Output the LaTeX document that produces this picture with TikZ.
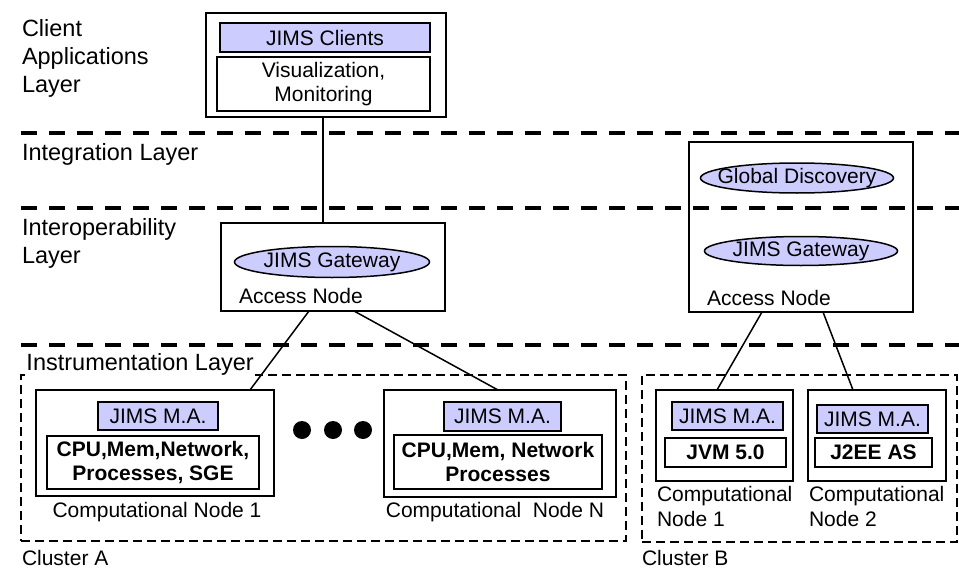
\documentclass[tikz,border=0pt]{standalone}
\usepackage{fontspec}
\setmainfont{Liberation Sans}
\usetikzlibrary{fit,calc,shapes.geometric}
\definecolor{jimsfill}{RGB}{204,204,255}
% text that does not widen an elliptic node
\newcommand{\svctext}[1]{\makebox[0pt]{#1}}
\begin{document}
\begin{tikzpicture}[x=1pt,y=-1pt,
  every node/.style={inner sep=0pt, outer sep=0pt},
  txt/.style={font=\fontsize{21}{23.5}\selectfont},
  bodytxt/.style={font=\bfseries\fontsize{21}{24}\selectfont, align=center},
  nodetxt/.style={font=\fontsize{21}{25}\selectfont, align=left},
  layertxt/.style={font=\fontsize{23.5}{28}\selectfont, align=left},
  frame/.style={draw, line width=1.5pt},
  heavyframe/.style={draw, line width=2pt},
  agent/.style={draw, line width=1.5pt, fill=jimsfill, txt},
  resource/.style={draw, line width=2pt, bodytxt},
  service/.style={ellipse, draw, line width=1.5pt, fill=jimsfill, txt},
  cluster/.style={draw, line width=1.5pt, dash pattern=on 9pt off 5pt},
  layerline/.style={line width=4pt, dash pattern=on 16pt off 12pt},
  link/.style={line width=1.5pt},
  dot/.style={circle, fill=black, minimum size=18pt},
  size/.style 2 args={minimum width=#1pt, minimum height=#2pt},
]
\useasboundingbox (0,0) rectangle (959,570);

% layer separators
\draw[layerline] (21,133) -- (959,133);
\draw[layerline] (21,208) -- (959,208);
\draw[layerline] (21,345) -- (959,345);

% layer names
\node[layertxt, anchor=north west] (lclient) at (22,19) {Client\\Applications\\Layer};
\node[layertxt, anchor=base west] (lintegr) at (22,160) {Integration Layer};
\node[layertxt, anchor=north west] (linterop) at (22,218) {Interoperability\\Layer};

% client applications
\node[heavyframe, fit={(206,13)(446,117)}] (clientbox) {};
\node[agent, size={210}{29}] (clients) at (325,37.5) {JIMS Clients};
\node[heavyframe, txt, align=center, size={213}{54}] (vis) at (323.5,84) {Visualization,\\Monitoring};

% access node of cluster A
\node[frame, fit={(221,223)(445,311)}] (acc1) {};
\node[service, size={195}{31}] (gw1) at (332,262) {\svctext{JIMS Gateway}};
\node[txt, anchor=base west] (acc1lbl) at (239,303) {Access Node};

% access node of cluster B
\node[frame, fit={(689,142)(913,312)}] (acc2) {};
\node[service, size={193}{30}] (gd) at (797,178) {\svctext{Global Discovery}};
\node[service, size={193}{29}] (gw2) at (801,251) {\svctext{JIMS Gateway}};
\node[txt, anchor=base west] (acc2lbl) at (707,305) {Access Node};

% clusters
\node[cluster, fit={(21,375)(626,541)}] (clA) {};
\node[cluster, fit={(642,375)(957,542)}] (clB) {};
\node[layertxt, anchor=base west, fill=white, inner sep=1.5pt] (linstr) at (25,370) {Instrumentation Layer};
\node[txt, anchor=base west] (clAlbl) at (22,565) {Cluster A};
\node[txt, anchor=base west] (clBlbl) at (642,565) {Cluster B};

% cluster A computational nodes
\node[frame, fit={(36,390)(274,496)}] (cn1) {};
\node[agent, size={120}{28}] (ma1) at (158,416) {JIMS M.A.};
\node[resource, size={212}{53}] (res1) at (153,462.5) {CPU,Mem,Network,\\Processes, SGE};
\node[txt, anchor=base] (cn1lbl) at (157,517) {Computational Node 1};

\node[frame, fit={(384,390)(616,497)}] (cnN) {};
\node[agent, size={117}{29}] (maN) at (502.5,416.5) {JIMS M.A.};
\node[resource, size={208}{54}] (resN) at (498,462) {CPU,Mem, Network\\Processes};
\node[txt, anchor=base] (cnNlbl) at (495,517) {Computational~ Node N};

\node[dot] (dot1) at (302,430) {};
\node[dot] (dot2) at (333,430) {};
\node[dot] (dot3) at (363,430) {};

% cluster B computational nodes
\node[frame, fit={(656,390)(793,481)}] (cb1) {};
\node[agent, size={111}{28}] (mab1) at (727.5,416) {JIMS M.A.};
\node[resource, size={121}{29}] (jvm) at (725.5,452.5) {JVM 5.0};
\node[nodetxt, anchor=north west] (cb1lbl) at (657,486.7) {Computational\\Node 1};

\node[frame, fit={(808,390)(946,481)}] (cb2) {};
\node[agent, size={111}{28}] (mab2) at (872.5,419) {JIMS M.A.};
\node[resource, size={117}{29}] (j2ee) at (873.5,452.5) {J2EE AS};
\node[nodetxt, anchor=north west] (cb2lbl) at (809,486.7) {Computational\\Node 2};

% connectors
\draw[link] ($(clientbox.south)+(-3,0)$) -- ($(clientbox.south |- acc1.north)+(-3,0)$);
\draw[link] ($(acc1.south west)+(88,0)$) -- ($(cn1.north west)+(214,0)$);
\draw[link] ($(acc1.south west)+(133,0)$) -- ($(cnN.north west)+(114,0)$);
\draw[link] ($(acc2.south west)+(73,0)$) -- ($(cb1.north west)+(61,0)$);
\draw[link] ($(acc2.south west)+(134,0)$) -- ($(cb2.north west)+(45,0)$);
\end{tikzpicture}
\end{document}
